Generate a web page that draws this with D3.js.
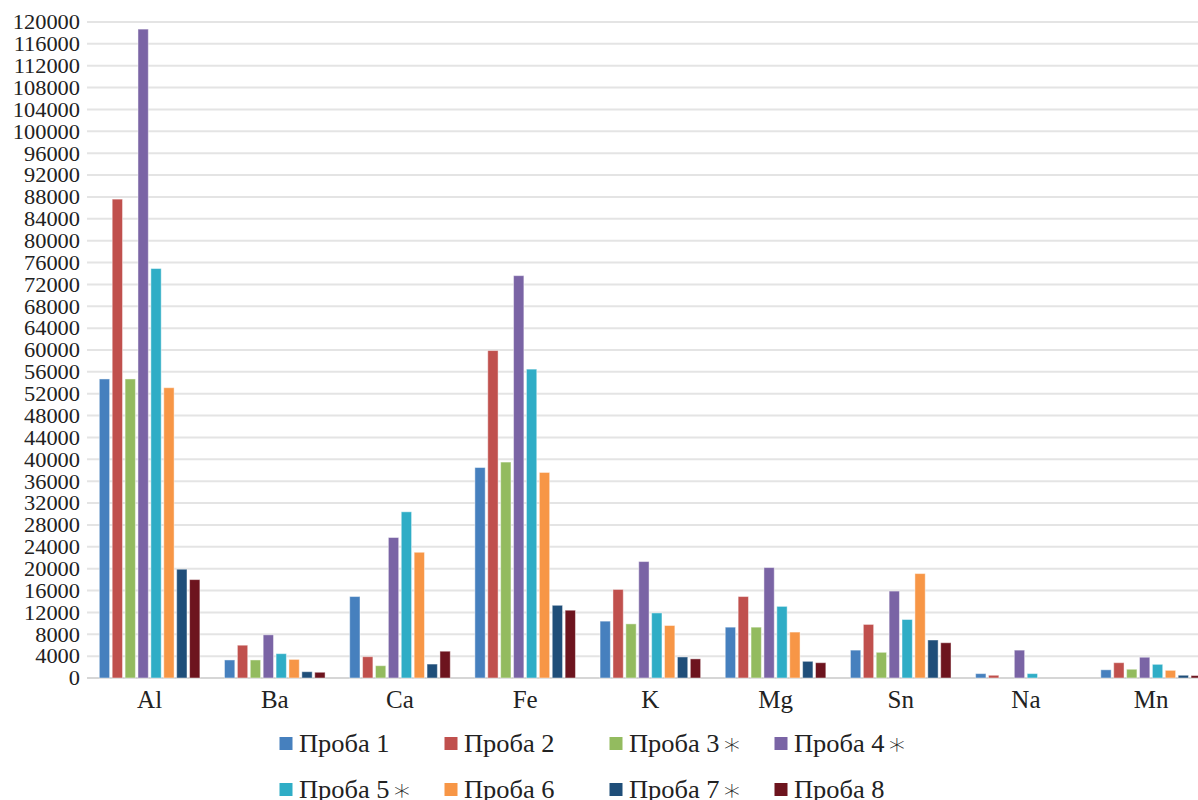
<!DOCTYPE html>
<html>
<head>
<meta charset="utf-8">
<script src="https://cdn.jsdelivr.net/npm/d3@7"></script>
<style>
  html, body { margin: 0; padding: 0; background: #fff; overflow: hidden; }
  svg { display: block; }
  text { font-family: "Liberation Serif", "Times New Roman", serif; fill: #222; }
</style>
</head>
<body>
<svg id="chart" width="1198" height="800"></svg>
<script>
const categories = ["Al", "Ba", "Ca", "Fe", "K", "Mg", "Sn", "Na", "Mn"];
const seriesLabels = ["Проба 1", "Проба 2", "Проба 3", "Проба 4", "Проба 5", "Проба 6", "Проба 7", "Проба 8"];
const seriesMarks = ["", "", "∗", "∗", "∗", "", "∗", ""];
const seriesColors = ["#4680be", "#c0504d", "#93bb5f", "#7a64a5", "#2fadc6", "#f79646", "#1f4e79", "#6d141e"];
const proba1 = [54700, 3300, 14900, 38500, 10400, 9300, 5100, 800, 1500];
const proba2 = [87600, 6000, 3900, 59900, 16200, 14900, 9800, 500, 2800];
const proba3 = [54700, 3300, 2250, 39500, 9900, 9300, 4700, 0, 1600];
const proba4 = [118700, 7900, 25700, 73600, 21300, 20200, 15900, 5100, 3800];
const proba5 = [74900, 4450, 30400, 56500, 11900, 13100, 10700, 800, 2500];
const proba6 = [53100, 3400, 23000, 37600, 9600, 8400, 19100, 0, 1400];
const proba7 = [19900, 1150, 2550, 13300, 3850, 3050, 6950, 0, 500];
const proba8 = [18000, 1050, 4900, 12400, 3500, 2800, 6450, 0, 450];
const seriesValues = [proba1, proba2, proba3, proba4, proba5, proba6, proba7, proba8];
const yTicks = d3.range(0, 120001, 4000);

const svg = d3.select("#chart");
const plotLeft = 87, plotRight = 1213.7, plotTop = 22, plotBottom = 678;
const serif = "'Liberation Serif', 'Times New Roman', serif";

const x0 = d3.scaleBand().domain(categories).range([plotLeft, plotRight])
  .paddingInner(0.176).paddingOuter(0.088);
const x1 = d3.scaleBand().domain(d3.range(seriesLabels.length))
  .range([0, x0.bandwidth()]).paddingInner(0.2).paddingOuter(0.1);
const y = d3.scaleLinear().domain([0, 120000]).range([plotBottom, plotTop]);

// gridlines
svg.append("g").selectAll("line").data(yTicks).join("line")
  .attr("x1", plotLeft).attr("x2", plotRight)
  .attr("y1", d => y(d)).attr("y2", d => y(d))
  .attr("stroke", d => d === 0 ? "#d6d6d6" : "#e4e4e4")
  .attr("stroke-width", 2);

// y axis labels
const yAxis = d3.axisLeft(y).tickValues(yTicks).tickSize(0).tickPadding(0).tickFormat(d3.format("d"));
const gy = svg.append("g").attr("transform", `translate(80,0) scale(1.12,1)`).call(yAxis)
  .attr("font-family", serif).attr("font-size", 20);
gy.select(".domain").remove();
gy.selectAll("text").style("font-family", serif)
  .style("font-size", "20px").attr("fill", "#222").attr("dy", "0.34em");

// bars
const data = categories.map((c, i) => ({ cat: c, vals: seriesValues.map(s => s[i]) }));
svg.append("g").selectAll("g").data(data).join("g")
  .attr("transform", d => `translate(${x0(d.cat)},0)`)
  .selectAll("rect").data(d => d.vals.map((v, k) => ({ v, k })).filter(e => e.v > 0)).join("rect")
  .attr("x", d => x1(d.k))
  .attr("width", x1.bandwidth())
  .attr("y", d => y(d.v))
  .attr("height", d => y(0) - y(d.v))
  .attr("fill", d => seriesColors[d.k])
  .attr("stroke", "rgba(255,255,255,0.45)")
  .attr("stroke-width", 1);

// x axis labels
const xAxis = d3.axisBottom(x0).tickSize(0).tickPadding(0);
const gx = svg.append("g").attr("transform", `translate(0,${plotBottom})`).call(xAxis)
  .attr("font-family", serif).attr("font-size", 25);
gx.select(".domain").remove();
gx.selectAll("text").style("font-family", serif)
  .style("font-size", "25px").attr("fill", "#222").attr("y", 30).attr("dy", 0);

// legend
const legend = svg.append("g");
const items = legend.selectAll("g").data(seriesLabels).join("g")
  .attr("transform", (d, i) => `translate(${279.5 + (i % 4) * 165},${743.5 + Math.floor(i / 4) * 46})`);
items.append("rect").attr("x", 0).attr("y", -6.5).attr("width", 13).attr("height", 13)
  .attr("fill", (d, i) => seriesColors[i]);
const lt = items.append("text").attr("transform", "translate(19.5,8.5) scale(1.08,1)")
  .style("font-family", serif).style("font-size", "24.5px");
lt.append("tspan").text(d => d);
lt.append("tspan").attr("dx", 2).attr("dy", 2)
  .style("font-family", "'DejaVu Sans', sans-serif").style("font-weight", 200)
  .style("font-size", "30px")
  .text((d, i) => seriesMarks[i]);
</script>
</body>
</html>
